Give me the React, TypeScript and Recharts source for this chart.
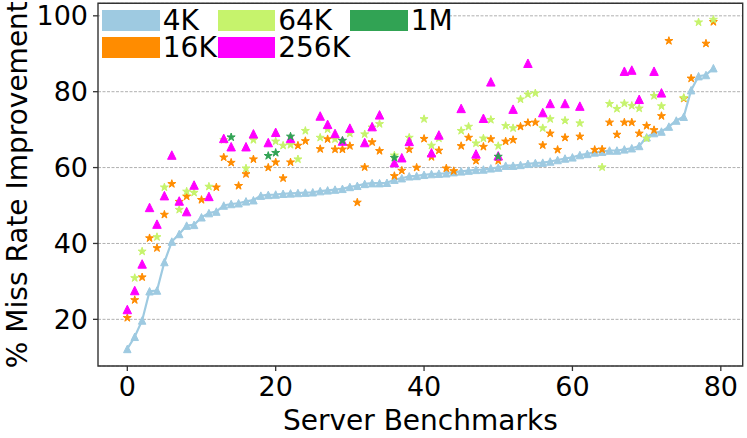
import React from 'react';
import { ScatterChart, Scatter, XAxis, YAxis, CartesianGrid, Legend, ReferenceArea } from 'recharts';

// % miss rate improvement per server benchmark (index = benchmark number, sorted by 4K)
const miss4K = [
  12.2, 15.4, 19.7, 27.4, 27.6, 35.1, 40.5, 42.5, 44.7, 44.9,
  46.9, 48.0, 48.4, 50.0, 50.4, 50.6, 51.1, 51.4, 52.6, 52.8,
  52.9, 53.1, 53.2, 53.3, 53.4, 53.5, 53.8, 54.0, 54.2, 54.4,
  54.9, 55.2, 55.7, 55.9, 55.9, 56.0, 56.8, 57.2, 57.7, 57.8,
  58.1, 58.3, 58.4, 58.5, 58.8, 59.0, 59.2, 59.4, 59.5, 59.8,
  60.0, 60.5, 60.5, 60.7, 61.0, 61.2, 61.3, 61.6, 62.0, 62.4,
  62.7, 63.3, 63.6, 64.0, 64.2, 64.5, 64.5, 64.8, 65.1, 65.7,
  68.0, 69.1, 69.5, 70.8, 72.4, 73.4, 80.4, 84.1, 84.4, 86.2,
];

const miss16K = [
  20.4, 25.1, 31.1, 41.4, 38.8, 47.6, 55.7, 51.0, 52.4, null,
  51.5, null, 54.8, 62.7, 61.3, 55.2, 58.3, 62.2, null, 60.0,
  61.4, 57.2, 61.4, 65.8, 67.0, null, 64.9, 67.5, 64.8, 64.8,
  65.7, 50.8, 60.1, 66.7, 64.4, null, 57.8, 59.2, 64.8, 60.0,
  67.6, 62.8, 64.5, 59.8, 59.1, 65.7, 67.9, 61.8, 65.5, 67.5,
  61.8, 66.9, 67.3, 70.8, 71.8, 71.9, 65.9, 69.0, 64.7, 67.9,
  null, 68.2, null, 64.7, 64.8, 71.9, 68.7, 71.9, 71.9, 69.0,
  71.0, 69.9, 73.6, 93.4, null, 78.2, 83.5, null, 92.7, 98.4,
];

const miss64K = [
  null, 30.9, 37.9, null, 41.7, 54.8, null, 48.9, 53.7, 53.4,
  null, 55.0, null, 67.3, null, null, 59.8, 67.3, null, null,
  66.9, 65.8, 66.0, 62.2, 69.7, null, 67.9, 70.1, 67.5, null,
  69.0, null, 68.8, 70.6, 71.5, null, 63.2, null, 67.9, null,
  72.8, 65.8, 67.7, null, null, 69.7, 70.8, 66.4, 67.7, 72.6,
  65.7, 71.0, 70.4, 78.0, 79.3, 79.6, 70.4, 72.8, null, 72.4,
  null, 71.7, null, null, 60.1, 76.8, 75.5, 76.9, 76.3, 75.6,
  67.7, 78.9, 76.2, null, null, 78.4, null, 98.3, null, 99.0,
];

const miss256K = [
  22.6, 27.6, 34.6, 49.5, 45.1, 52.6, 63.3, 51.2, 48.4, 55.4,
  null, 52.4, null, 67.7, 65.5, null, 65.5, 68.9, null, 66.6,
  69.3, null, 67.7, null, null, null, 73.6, 71.4, 69.0, 67.0,
  70.4, null, 66.6, 70.8, 73.9, null, 61.3, 62.6, 66.9, null,
  null, 63.9, 68.6, null, null, 75.6, null, 63.6, 73.0, 82.6,
  63.1, null, 75.4, null, 87.5, null, 74.5, 76.9, null, 76.9,
  null, 76.2, null, null, null, null, null, 85.4, 85.7, 78.0,
  null, 85.4, 79.7, null, null, null, null, null, null, null,
];

const bench1M = [14, 19, 20, 22, 29, 36, 50];
const miss1M = [68.0, 63.1, 63.9, 68.2, 67.1, 62.6, 62.9];

const xTicks = [0, 20, 40, 60, 80];
const yTicks = [20, 40, 60, 80, 100];
const xDomain = [-3.95, 82.95];
const yDomain = [7.7, 103.3];

const C4K = '#9ecae1';
const C16K = '#ff8c00';
const C64K = '#c6f36c';
const C256K = '#ff00ff';
const C1M = '#31a354';

const FONT = '"DejaVu Sans", sans-serif';

const toPoints = (vals: (number | null)[]) =>
  vals
    .map((v, i) => (v == null ? null : { x: i, y: v }))
    .filter((p): p is { x: number; y: number } => p !== null);

const data4K = toPoints(miss4K);
const data16K = toPoints(miss16K);
const data64K = toPoints(miss64K);
const data256K = toPoints(miss256K);
const data1M = bench1M.map((b, k) => ({ x: b, y: miss1M[k] }));

const triangle = (color: string, s: number) => (props: any) => {
  const { cx, cy } = props;
  if (cx == null || cy == null || isNaN(cx) || isNaN(cy)) return <g />;
  const h = s / 2;
  return (
    <path
      d={`M${cx},${cy - h}L${cx - h},${cy + h}L${cx + h},${cy + h}Z`}
      fill={color}
      stroke={color}
      strokeWidth={1}
    />
  );
};

const star = (color: string, R: number) => (props: any) => {
  const { cx, cy } = props;
  if (cx == null || cy == null || isNaN(cx) || isNaN(cy)) return <g />;
  const r = R * 0.381966;
  const pts: string[] = [];
  for (let k = 0; k < 10; k++) {
    const ang = -Math.PI / 2 + (k * Math.PI) / 5;
    const rad = k % 2 === 0 ? R : r;
    pts.push(`${(cx + rad * Math.cos(ang)).toFixed(2)},${(cy + rad * Math.sin(ang)).toFixed(2)}`);
  }
  return <polygon points={pts.join(' ')} fill={color} stroke={color} strokeWidth={1} strokeLinejoin="miter" />;
};

const legendEntries = [
  { label: '4K', color: C4K, col: 0, row: 0 },
  { label: '16K', color: C16K, col: 0, row: 1 },
  { label: '64K', color: C64K, col: 1, row: 0 },
  { label: '256K', color: C256K, col: 1, row: 1 },
  { label: '1M', color: C1M, col: 2, row: 0 },
];
const colX = [102.3, 217.7, 350.3];
const rowY = [10, 37.3];

const renderLegend = () => (
  <div style={{ position: 'relative', width: 747, height: 0 }}>
    <div style={{ position: 'absolute', left: 99.5, top: 4.5, width: 350, height: 58, background: '#fff' }} />
    {legendEntries.map((e) => (
      <div
        key={e.label}
        style={{ position: 'absolute', left: colX[e.col], top: rowY[e.row], height: 21, display: 'flex', alignItems: 'center', whiteSpace: 'nowrap' }}
      >
        <div style={{ width: 57.5, height: 21, background: e.color }} />
        <span
          style={{
            display: 'inline-block',
            height: 21,
            marginLeft: 3,
            fontSize: 28,
            fontFamily: FONT,
            lineHeight: '21px',
            color: '#000',
            overflow: 'visible',
          }}
        >
          {e.label}
        </span>
      </div>
    ))}
  </div>
);

const YLabel = (props: any) => {
  const vb = props.viewBox || { x: 0, y: 3, width: 98, height: 362.7 };
  const x = vb.x + 26.7;
  const y = vb.y + vb.height / 2;
  return (
    <text x={x} y={y} transform={`rotate(-90, ${x}, ${y})`} textAnchor="middle" fontSize={28} fontFamily={FONT} fill="#000">
      % Miss Rate Improvement
    </text>
  );
};

const XLabel = (props: any) => {
  const vb = props.viewBox || { x: 98, y: 365.7, width: 644.7, height: 72 };
  return (
    <text x={vb.x + vb.width / 2} y={vb.y + 64.3} textAnchor="middle" fontSize={28} fontFamily={FONT} fill="#000">
      Server Benchmarks
    </text>
  );
};

export default function App() {
  return (
    <div style={{ position: 'absolute', left: 0, top: 0, width: 747, height: 438, background: '#fff' }}>
      <ScatterChart width={747} height={438} margin={{ top: 3.3, right: 4.3, left: 0, bottom: 0 }}>
        <CartesianGrid vertical={false} stroke="#b0b0b0" strokeDasharray="3 1.5" strokeWidth={1} />
        <XAxis
          type="number"
          dataKey="x"
          domain={xDomain}
          ticks={xTicks}
          allowDataOverflow
          height={72}
          axisLine={false}
          tickSize={5}
          tickMargin={6}
          tickLine={{ stroke: '#333', strokeWidth: 1.3 }}
          tick={{ fill: '#000', fontSize: 27, fontFamily: FONT }}
          label={XLabel}
        />
        <YAxis
          type="number"
          dataKey="y"
          domain={yDomain}
          ticks={yTicks}
          allowDataOverflow
          width={98}
          axisLine={false}
          tickSize={5}
          tickMargin={5}
          tickLine={{ stroke: '#333', strokeWidth: 1.3 }}
          tick={{ fill: '#000', fontSize: 27, fontFamily: FONT }}
          label={YLabel}
        />
        <ReferenceArea x1={xDomain[0]} x2={xDomain[1]} y1={yDomain[0]} y2={yDomain[1]} fill="none" fillOpacity={0} stroke="#333" strokeWidth={1.4} ifOverflow="visible" />
        <Scatter
          name="4K"
          data={data4K}
          fill={C4K}
          line={{ stroke: C4K, strokeWidth: 2.2 }}
          lineType="joint"
          shape={triangle(C4K, 7.5)}
          isAnimationActive={false}
        />
        <Scatter name="16K" data={data16K} fill={C16K} shape={star(C16K, 4.2)} isAnimationActive={false} />
        <Scatter name="64K" data={data64K} fill={C64K} shape={star(C64K, 4.2)} isAnimationActive={false} />
        <Scatter name="256K" data={data256K} fill={C256K} shape={triangle(C256K, 8.5)} isAnimationActive={false} />
        <Scatter name="1M" data={data1M} fill={C1M} shape={star(C1M, 4.2)} isAnimationActive={false} />
        <Legend
          content={renderLegend}
          layout="horizontal"
          verticalAlign="middle"
          align="center"
          wrapperStyle={{ position: 'absolute', left: 0, top: 0, width: 747, height: 0 }}
        />
      </ScatterChart>
    </div>
  );
}
